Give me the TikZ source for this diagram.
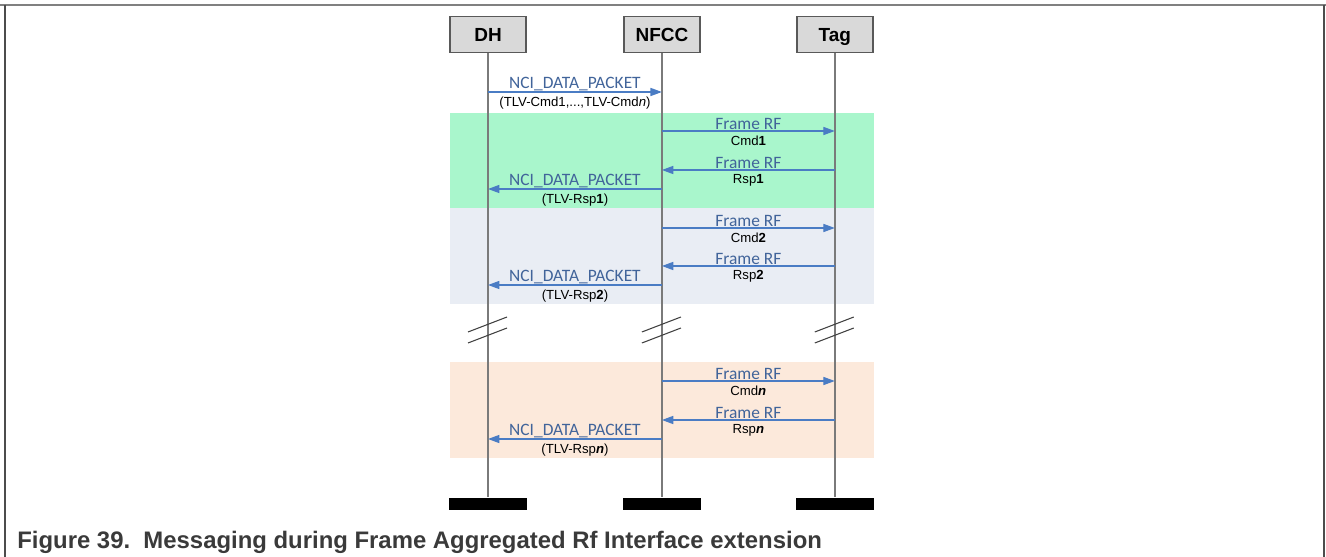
\documentclass[tikz,border=0pt]{standalone}
\usepackage{fontspec}
\setmainfont{Liberation Sans}
\newfontfamily\calibri{Carlito}
\usetikzlibrary{arrows.meta,positioning}
\definecolor{boxgray}{HTML}{D9D9D9}
\definecolor{edgegray}{HTML}{595959}
\definecolor{lifegray}{HTML}{7A7A7A}
\definecolor{msgblue}{HTML}{4A7CC4}
\definecolor{labelblue}{HTML}{41649A}
\definecolor{bandgreen}{HTML}{A9F6CC}
\definecolor{bandblue}{HTML}{E9EDF4}
\definecolor{bandpeach}{HTML}{FCE9DB}
\definecolor{captiongray}{HTML}{3A3A3A}

\begin{document}
\begin{tikzpicture}[
  x=0.02cm, y=-0.02cm,
  actor/.style={rectangle, draw=edgegray, fill=boxgray, line width=1.1pt, minimum width=1.52cm, minimum height=0.72cm, inner sep=0pt, text height=8pt, text depth=0pt, font=\fontsize{10.8}{12}\selectfont\bfseries},
  endbar/.style={rectangle, fill=black, minimum width=1.56cm, minimum height=0.24cm, inner sep=0pt},
  life/.style={draw=lifegray, line width=1.1pt},
  msg/.style={-{Triangle[length=6.5pt, width=4.6pt]}, draw=msgblue, line width=0.7pt},
  toplbl/.style={above, inner sep=0pt, yshift=0.3pt, text=labelblue, font=\calibri\fontsize{9.9}{11}\selectfont},
  sublbl/.style={below, inner sep=2.2pt, font=\fontsize{7.5}{8}\selectfont},
  brk/.style={draw=black!75, line width=0.6pt}
]
  \useasboundingbox (0,0) rectangle (1326,557);
  % frame
  \draw[gray, line width=0.9pt] (0,5) -- (1326,5);
  \draw[black!70, line width=0.9pt] (5,5) -- (5,557);
  \draw[black!70, line width=0.9pt] (1324,5) -- (1324,557);
  % bands
  \fill[bandgreen] (450,113) rectangle (874,208);
  \fill[bandblue] (450,208) rectangle (874,304);
  \fill[bandpeach] (450,362) rectangle (874,458);
  % actors
  \node[actor] (dh) at (488,34.5) {DH};
  \node[actor, right=1.92cm of dh] (nfcc) {NFCC};
  \node[actor, right=1.9cm of nfcc] (tag) {Tag};
  \node[endbar, below=8.88cm of dh] (dhEnd) {};
  \node[endbar, below=8.88cm of nfcc] (nfccEnd) {};
  \node[endbar, below=8.88cm of tag] (tagEnd) {};
  \draw[life] (dh) -- (dhEnd);
  \draw[life] (nfcc) -- (nfccEnd);
  \draw[life] (tag) -- (tagEnd);
  % messages
  \draw[msg] (dh |- 0,92) -- node[toplbl] {NCI\_DATA\_PACKET} node[sublbl] {(TLV-Cmd1,...,TLV-Cmd\textit{n})} (nfcc |- 0,92);
  \draw[msg] (nfcc |- 0,131) -- node[toplbl] {Frame RF} node[sublbl] {Cmd\textbf{1}} (tag |- 0,131);
  \draw[msg] (tag |- 0,170) -- node[toplbl] {Frame RF} node[sublbl] {Rsp\textbf{1}} (nfcc |- 0,170);
  \draw[msg] (nfcc |- 0,189) -- node[toplbl] {NCI\_DATA\_PACKET} node[sublbl] {(TLV-Rsp\textbf{1})} (dh |- 0,189);
  \draw[msg] (nfcc |- 0,228) -- node[toplbl] {Frame RF} node[sublbl] {Cmd\textbf{2}} (tag |- 0,228);
  \draw[msg] (tag |- 0,266) -- node[toplbl] {Frame RF} node[sublbl] {Rsp\textbf{2}} (nfcc |- 0,266);
  \draw[msg] (nfcc |- 0,285) -- node[toplbl] {NCI\_DATA\_PACKET} node[sublbl] {(TLV-Rsp\textbf{2})} (dh |- 0,285);
  \draw[msg] (nfcc |- 0,381) -- node[toplbl] {Frame RF} node[sublbl] {Cmd\textbf{\textit{n}}} (tag |- 0,381);
  \draw[msg] (tag |- 0,420) -- node[toplbl] {Frame RF} node[sublbl] {Rsp\textbf{\textit{n}}} (nfcc |- 0,420);
  \draw[msg] (nfcc |- 0,439) -- node[toplbl] {NCI\_DATA\_PACKET} node[sublbl] {(TLV-Rsp\textbf{\textit{n}})} (dh |- 0,439);
  % breaks
  \foreach \n in {dh,nfcc,tag} {
    \draw[brk] (\n |- 0,332) ++(-20,0) -- ++(39,-15);
    \draw[brk] (\n |- 0,343) ++(-20,0) -- ++(39,-15);
  }
  % caption
  \node[anchor=base west, inner sep=0pt, text=captiongray, font=\fontsize{13.6}{15}\selectfont\bfseries] (caption) at (17,548) {Figure 39.\ \ Messaging during Frame Aggregated Rf Interface extension};
\end{tikzpicture}
\end{document}
